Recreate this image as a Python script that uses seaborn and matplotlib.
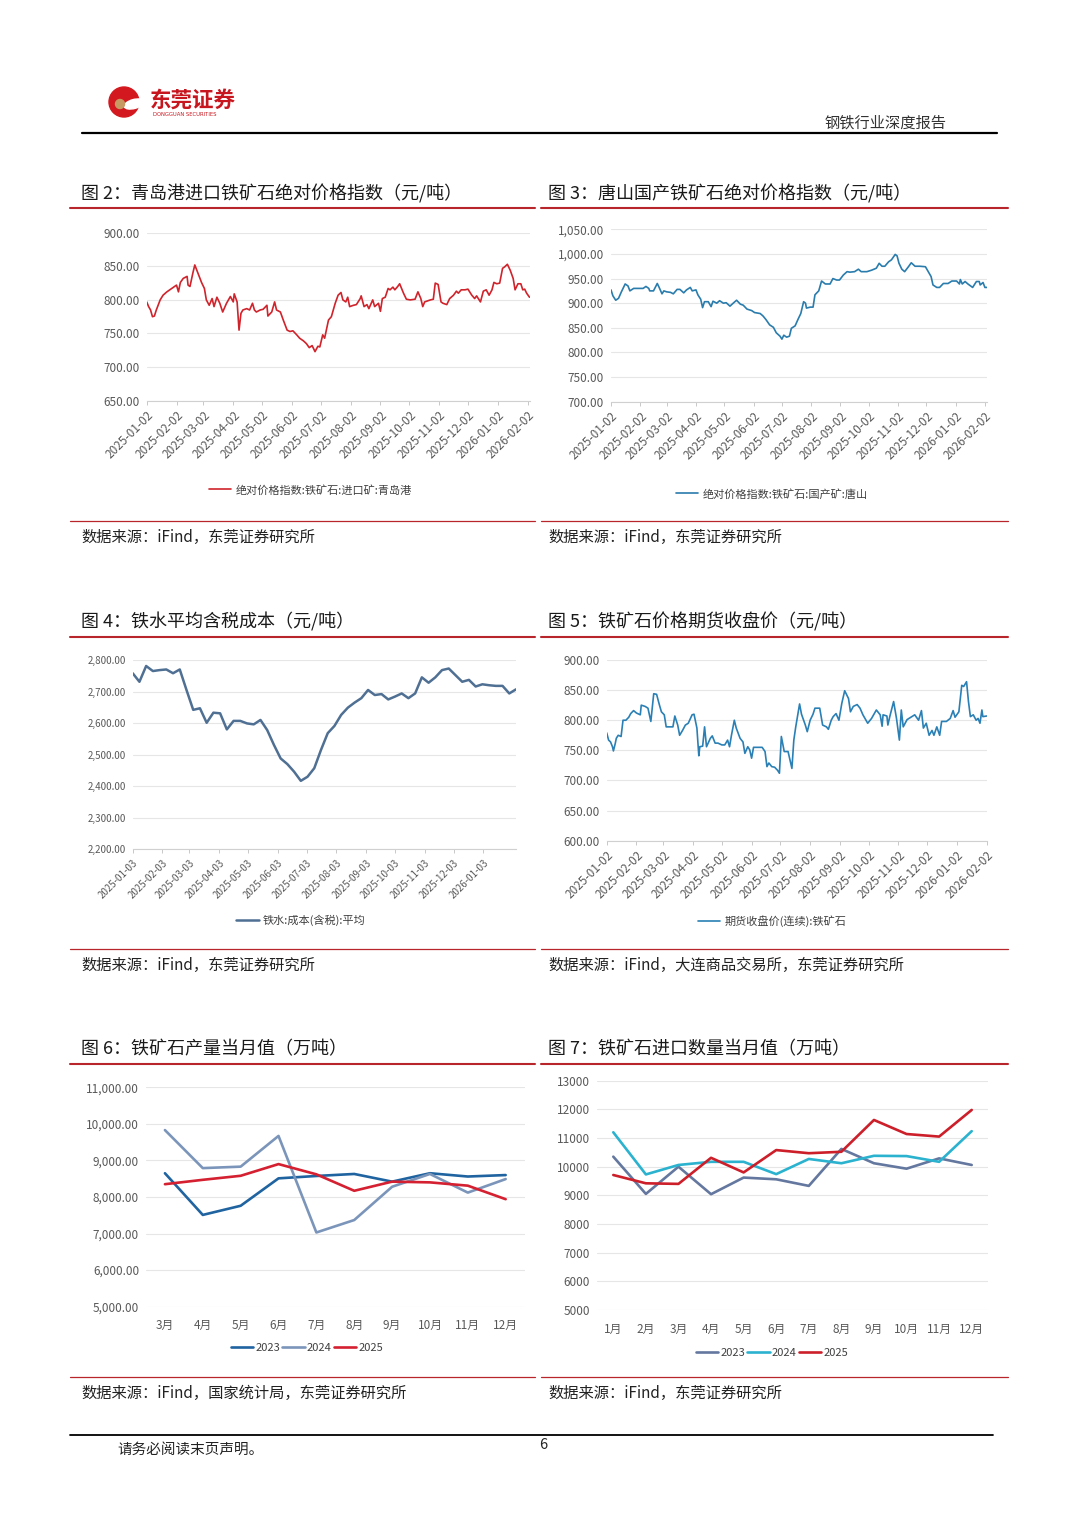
import numpy as np
import pandas as pd
import seaborn as sns
import matplotlib.pyplot as plt
from matplotlib.patches import Circle, Ellipse
from matplotlib.ticker import FuncFormatter

# ---------------- data ----------------
# fig 2: Qingdao import ore price index, days since 2025-01-02
qd_day = [0, 2, 4, 6, 8, 10, 14, 17, 21, 24, 28, 31, 33, 35, 38, 42, 43, 45, 48, 50,
          54, 57, 60, 62, 65, 68, 70, 73, 76, 79, 83, 87, 90, 91, 94, 96, 98, 100, 104, 107,
          110, 112, 114, 118, 121, 125, 126, 130, 133, 135, 139, 142, 146, 149, 152, 156, 159, 163, 166, 169,
          172, 175, 178, 180, 183, 185, 189, 192, 196, 199, 202, 204, 207, 209, 211, 215, 218, 222, 223, 226,
          229, 231, 235, 237, 241, 243, 245, 248, 251, 253, 256, 258, 261, 263, 267, 270, 274, 279, 282, 285,
          287, 289, 295, 298, 300, 303, 306, 308, 312, 315, 319, 322, 324, 327, 331, 334, 338, 341, 343, 347,
          350, 353, 356, 359, 361, 364, 367, 370, 372, 375, 378, 381, 383, 386, 389, 391, 393, 395, 398]
qd_val = [797, 790, 785, 775, 776, 785, 800, 807, 812, 815, 819, 822, 812, 826, 832, 835, 822, 820, 840, 852,
          837, 826, 817, 800, 792, 802, 790, 804, 795, 782, 795, 805, 797, 809, 797, 755, 780, 785, 787, 785,
          795, 785, 782, 785, 786, 792, 776, 782, 797, 785, 782, 770, 755, 753, 754, 748, 743, 739, 735, 729,
          732, 723, 731, 730, 748, 743, 770, 775, 795, 807, 811, 800, 797, 804, 790, 792, 793, 802, 806, 790,
          793, 787, 800, 790, 795, 783, 802, 804, 817, 815, 819, 815, 820, 824, 810, 801, 800, 801, 812, 802,
          790, 797, 800, 801, 825, 823, 797, 795, 793, 802, 807, 813, 810, 815, 815, 816, 807, 802, 806, 797,
          813, 815, 807, 815, 826, 824, 825, 847, 849, 853, 844, 832, 815, 824, 824, 815, 816, 810, 804]

# fig 3: Tangshan domestic ore price index
ts_day = [0, 2, 5, 8, 11, 15, 18, 20, 24, 27, 31, 34, 37, 40, 41, 45, 49, 51, 54, 56,
          59, 63, 66, 70, 73, 77, 80, 84, 86, 90, 92, 95, 97, 99, 103, 106, 108, 112, 115, 119,
          122, 126, 130, 133, 137, 140, 144, 149, 152, 158, 161, 164, 168, 172, 175, 179, 181, 183, 186, 189,
          191, 195, 198, 201, 204, 206, 207, 211, 214, 216, 220, 223, 227, 232, 235, 239, 242, 246, 250, 253,
          258, 262, 265, 271, 276, 281, 284, 287, 290, 294, 297, 301, 303, 305, 308, 311, 315, 318, 322, 327,
          333, 336, 339, 341, 345, 348, 352, 357, 361, 366, 369, 370, 372, 375, 378, 383, 387, 390, 391, 394,
          396, 398]
ts_val = [927, 915, 906, 910, 923, 939, 935, 925, 930, 930, 930, 930, 934, 930, 925, 925, 940, 932, 919, 925,
          923, 922, 919, 928, 928, 921, 927, 932, 925, 927, 917, 908, 891, 903, 903, 893, 904, 900, 905, 900,
          901, 894, 901, 906, 898, 896, 888, 885, 881, 879, 874, 867, 856, 851, 840, 833, 827, 835, 831, 833,
          849, 854, 867, 879, 903, 900, 890, 892, 892, 917, 925, 945, 939, 939, 950, 947, 947, 957, 964, 963,
          964, 969, 964, 964, 967, 971, 981, 975, 975, 984, 988, 999, 996, 981, 969, 964, 974, 982, 975, 975,
          974, 964, 954, 937, 932, 932, 940, 940, 945, 945, 939, 948, 939, 944, 939, 932, 944, 944, 937, 942,
          932, 932]

# fig 4: hot metal cost incl. tax, weekly from 2025-01-03
hm_val = [2758, 2731, 2781, 2765, 2768, 2770, 2758, 2770, 2705, 2642,
          2647, 2601, 2633, 2631, 2580, 2607, 2607, 2599, 2596, 2610,
          2578, 2531, 2488, 2470, 2446, 2417, 2430, 2457, 2515, 2568,
          2591, 2626, 2649, 2665, 2679, 2705, 2689, 2692, 2675, 2684,
          2694, 2679, 2694, 2745, 2728, 2745, 2768, 2773, 2752, 2731,
          2737, 2716, 2723, 2720, 2718, 2718, 2694, 2707]

# fig 5: iron ore futures close (continuous)
fu_day = [0, 2, 4, 6, 7, 9, 10, 12, 15, 17, 20, 23, 25, 28, 31, 35, 36, 40, 43, 46,
          49, 52, 55, 57, 60, 62, 66, 69, 71, 74, 76, 79, 82, 85, 89, 91, 94, 96, 97, 100,
          102, 104, 108, 110, 113, 116, 120, 123, 126, 128, 130, 133, 135, 139, 142, 144, 147, 149, 151, 153,
          156, 162, 165, 167, 169, 172, 175, 178, 180, 182, 185, 189, 193, 195, 197, 201, 203, 207, 209, 212,
          215, 217, 222, 225, 229, 231, 234, 236, 239, 242, 245, 248, 252, 254, 257, 261, 264, 267, 272, 276,
          281, 285, 287, 288, 292, 293, 295, 299, 302, 305, 307, 309, 313, 318, 321, 325, 328, 330, 333, 336,
          339, 341, 344, 347, 349, 354, 358, 361, 363, 367, 370, 372, 375, 377, 379, 382, 385, 387, 389, 391,
          392, 396]
fu_val = [779, 767, 764, 756, 749, 762, 770, 775, 773, 800, 800, 805, 811, 816, 812, 809, 825, 823, 820, 798,
          844, 843, 825, 814, 809, 789, 789, 789, 807, 792, 775, 783, 792, 795, 809, 810, 787, 741, 756, 757,
          789, 756, 770, 774, 762, 762, 759, 759, 767, 756, 775, 800, 787, 770, 764, 745, 756, 751, 737, 755,
          755, 755, 748, 723, 729, 723, 722, 717, 712, 773, 748, 748, 720, 767, 789, 827, 810, 792, 781, 800,
          810, 820, 820, 792, 789, 785, 800, 806, 811, 800, 828, 849, 836, 814, 823, 826, 820, 809, 795, 803,
          817, 809, 790, 809, 807, 792, 806, 831, 803, 767, 817, 789, 801, 806, 809, 800, 816, 787, 795, 775,
          783, 775, 789, 775, 798, 798, 803, 816, 805, 814, 858, 856, 864, 831, 806, 809, 800, 803, 795, 817,
          806, 807]

# fig 6: iron ore output, monthly (10k t)
prod_months = ["3月", "4月", "5月", "6月", "7月", "8月", "9月", "10月", "11月", "12月"]
prod_2023 = [8650, 7510, 7760, 8510, 8575, 8630, 8420, 8650, 8560, 8600]
prod_2024 = [9830, 8790, 8830, 9670, 7030, 7370, 8280, 8630, 8120, 8490]
prod_2025 = [8350, 8470, 8580, 8900, 8620, 8170, 8420, 8400, 8310, 7940]

# fig 7: iron ore imports, monthly (10k t)
imp_months = ["1月", "2月", "3月", "4月", "5月", "6月", "7月", "8月", "9月", "10月", "11月", "12月"]
imp_2023 = [10350, 9050, 10000, 9040, 9620, 9560, 9330, 10620, 10120, 9930, 10290, 10060]
imp_2024 = [11200, 9730, 10060, 10170, 10170, 9740, 10270, 10120, 10380, 10370, 10170, 11240]
imp_2025 = [9710, 9420, 9400, 10310, 9800, 10580, 10470, 10520, 11630, 11140, 11050, 11980]

# ---------------- page setup ----------------
W, H = 1080, 1526
sns.set_style("white")
plt.rcParams['font.family'] = ['Noto Sans CJK SC', 'DejaVu Sans']
plt.rcParams['axes.unicode_minus'] = False

fig = plt.figure(figsize=(W / 100, H / 100), dpi=100)

# overlay in pixel coordinates for page decorations
page = fig.add_axes([0, 0, 1, 1], zorder=-1)
page.set_xlim(0, W)
page.set_ylim(H, 0)
page.axis("off")

RED = "#b8262c"
GRAY_TXT = "#595959"


def box(x0, y0, x1, y1):
    return [x0 / W, 1 - y1 / H, (x1 - x0) / W, (y1 - y0) / H]


def style_axes(ax, fs, tcolor=GRAY_TXT):
    for s in ["left", "right", "top"]:
        ax.spines[s].set_visible(False)
    ax.spines["bottom"].set_color("#d0d0d0")
    ax.spines["bottom"].set_linewidth(0.8)
    ax.yaxis.grid(True, color="#e6e6e6", lw=0.8)
    ax.xaxis.grid(False)
    ax.set_axisbelow(True)
    ax.tick_params(axis="y", length=0, pad=5, labelsize=fs, labelcolor=tcolor)
    ax.set_xlabel("")
    ax.set_ylabel("")


def date_chart(rect, start, days, vals, color, label, ylim, yticks, lx, ly,
               lw=1.2, fs=8.5, tick_day=2, tick_end="2026-02-28", freq=None):
    ax = fig.add_axes(box(*rect))
    t0 = pd.Timestamp(start)
    if freq is None:
        dates = t0 + pd.to_timedelta(days, unit="D")
    else:
        dates = pd.date_range(t0, periods=len(vals), freq=freq)
    df = pd.DataFrame({"date": dates, "val": vals})
    sns.lineplot(data=df, x="date", y="val", color=color, lw=lw, label=label, ax=ax)
    end = df["date"].max()
    ax.set_xlim(t0, end)
    ax.set_ylim(*ylim)
    ax.set_yticks(yticks)
    ax.yaxis.set_major_formatter(FuncFormatter(lambda v, p: f"{v:,.2f}"))
    ticks = [d for d in pd.date_range("2025-01-01", "2026-03-01", freq="MS") + pd.Timedelta(days=tick_day - 1)
             if t0 <= d <= pd.Timestamp(tick_end)]
    ax.set_xticks(ticks)
    ax.set_xticklabels([d.strftime("%Y-%m-%d") for d in ticks], rotation=45,
                       ha="right", rotation_mode="anchor")
    style_axes(ax, fs)
    ax.tick_params(axis="x", bottom=True, length=3, width=0.7, color="#c8c8c8",
                   pad=3, labelsize=fs, labelcolor=GRAY_TXT)
    ax.legend(loc="center", bbox_to_anchor=(lx / W, 1 - ly / H), bbox_transform=fig.transFigure,
              frameon=False, fontsize=8, handlelength=2.0, handletextpad=0.4,
              labelcolor="#404040")
    return ax


def month_chart(rect, months, series, palette, ylim, yticks, fmt, lx, ly, fs=8.5):
    ax = fig.add_axes(box(*rect))
    rows = []
    for yr, vals in series.items():
        for i, v in enumerate(vals):
            rows.append({"idx": i, "val": v, "year": yr})
    df = pd.DataFrame(rows)
    sns.lineplot(data=df, x="idx", y="val", hue="year", palette=palette, lw=1.9, ax=ax)
    ax.set_xlim(-0.5, len(months) - 0.5)
    ax.set_ylim(*ylim)
    ax.set_yticks(yticks)
    ax.yaxis.set_major_formatter(FuncFormatter(fmt))
    ax.set_xticks(range(len(months)))
    ax.set_xticklabels(months)
    style_axes(ax, fs)
    ax.spines["bottom"].set_visible(False)
    ax.tick_params(axis="x", length=0, pad=9, labelsize=fs, labelcolor=GRAY_TXT)
    ax.legend(loc="center", bbox_to_anchor=(lx / W, 1 - ly / H), bbox_transform=fig.transFigure,
              frameon=False, fontsize=8, ncol=3, handlelength=2.0, handletextpad=0.2,
              columnspacing=0.2, labelcolor="#404040")
    return ax


# ---------------- header ----------------
page.add_patch(Circle((124, 102), 15, color="#d3191f"))
page.add_patch(Ellipse((134, 104), 20, 9, angle=-15, color="white"))
page.add_patch(Circle((120, 104), 4.5, color="#c89a63"))
page.text(150, 100, "东莞证券", fontsize=15.5, color="#c8161e", fontweight="bold", va="center")
page.text(153, 115, "DONGGUAN SECURITIES", fontsize=3.8, color="#c8161e", va="center",
          family=["DejaVu Sans"])
page.text(825, 123, "钢铁行业深度报告", fontsize=11, color="#333333", va="center")
page.plot([82, 997], [133, 133], color="black", lw=1.6)

# ---------------- titles / rules / sources ----------------
titles = [(81, 194, "图 2：青岛港进口铁矿石绝对价格指数（元/吨）"),
          (548, 194, "图 3：唐山国产铁矿石绝对价格指数（元/吨）"),
          (81, 622, "图 4：铁水平均含税成本（元/吨）"),
          (548, 622, "图 5：铁矿石价格期货收盘价（元/吨）"),
          (81, 1049, "图 6：铁矿石产量当月值（万吨）"),
          (548, 1049, "图 7：铁矿石进口数量当月值（万吨）")]
for x, y, s in titles:
    page.text(x, y, s, fontsize=13, color="#1a1a1a", va="center")

sources = [(81, 537, "数据来源：iFind，东莞证券研究所"),
           (548, 537, "数据来源：iFind，东莞证券研究所"),
           (81, 965, "数据来源：iFind，东莞证券研究所"),
           (548, 965, "数据来源：iFind，大连商品交易所，东莞证券研究所"),
           (81, 1393, "数据来源：iFind，国家统计局，东莞证券研究所"),
           (548, 1393, "数据来源：iFind，东莞证券研究所")]
for x, y, s in sources:
    page.text(x, y, s, fontsize=11, color="#222222", va="center")

for y in [208, 637, 1064]:
    page.plot([70, 535], [y, y], color=RED, lw=1.5)
    page.plot([541, 1008], [y, y], color=RED, lw=1.5)
for y in [521, 949, 1377]:
    page.plot([70, 535], [y, y], color=RED, lw=0.9)
    page.plot([541, 1008], [y, y], color=RED, lw=0.9)

# ---------------- charts ----------------
date_chart((146.7, 232.7, 529.5, 400.7), "2025-01-02", qd_day, qd_val, "#d0232b",
           "绝对价格指数:铁矿石:进口矿:青岛港", (650, 900), range(650, 901, 50), 310, 490)

date_chart((611, 229.3, 986.8, 401.7), "2025-01-02", ts_day, ts_val, "#2a7cad",
           "绝对价格指数:铁矿石:国产矿:唐山", (700, 1050), range(700, 1051, 50), 772, 494)

date_chart((132.7, 660, 516, 849.3), "2025-01-03", None, hm_val, "#4f6f93",
           "铁水:成本(含税):平均", (2200, 2800), range(2200, 2801, 100), 301, 920,
           lw=1.8, fs=7, tick_day=3, tick_end="2026-01-31", freq="7D")

date_chart((606.7, 660, 986.7, 840.7), "2025-01-02", fu_day, fu_val, "#2a80b5",
           "期货收盘价(连续):铁矿石", (600, 900), range(600, 901, 50), 772, 921)

month_chart((146, 1087.3, 524.6, 1306.7), prod_months,
            {"2023": prod_2023, "2024": prod_2024, "2025": prod_2025},
            {"2023": "#1f63a0", "2024": "#7b95ba", "2025": "#d42030"},
            (5000, 11000), range(5000, 11001, 1000), lambda v, p: f"{v:,.2f}", 307, 1348)

month_chart((597, 1080.7, 988, 1310), imp_months,
            {"2023": imp_2023, "2024": imp_2024, "2025": imp_2025},
            {"2023": "#64779f", "2024": "#2bb2cf", "2025": "#cc1f2a"},
            (5000, 13000), range(5000, 13001, 1000), lambda v, p: f"{v:.0f}", 772, 1353)

# ---------------- footer ----------------
page.plot([70, 993], [1435, 1435], color="black", lw=1.3)
page.text(117, 1450, "请务必阅读末页声明。", fontsize=10.5, color="#222222", va="center")
page.text(543, 1445, "6", fontsize=10.5, color="#222222", va="center", ha="center")

fig.savefig("out.png", dpi=100)
